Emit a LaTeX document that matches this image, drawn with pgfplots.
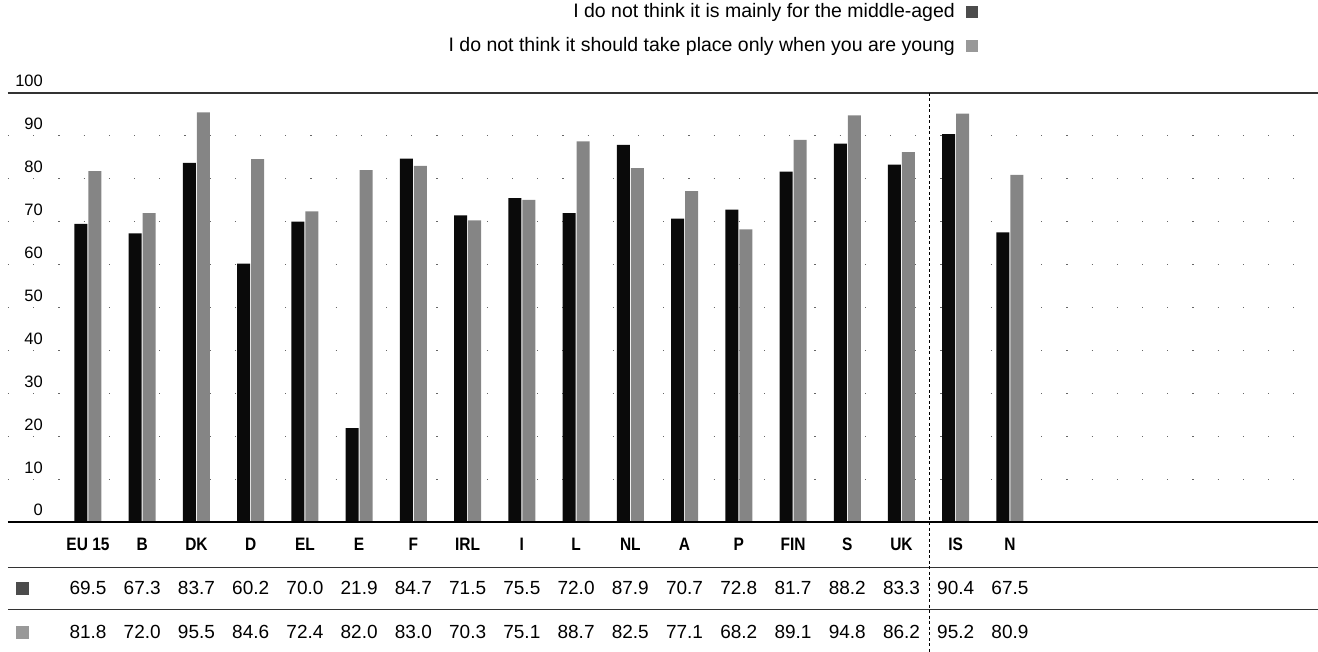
\documentclass[border=0pt]{standalone}
\usepackage{fontspec}
\setmainfont{Liberation Sans}
\newfontfamily\cond{Liberation Sans}[FakeStretch=0.86]
\usepackage{pgfplots}
\usepackage{pgfplotstable}
\pgfplotsset{compat=1.18}

% x = position of the country, dark = mainly for the middle-aged, light = only when young
\pgfplotstableread{
x dark light
0 69.5 81.8
1 67.3 72.0
2 83.7 95.5
3 60.2 84.6
4 70.0 72.4
5 21.9 82.0
6 84.7 83.0
7 71.5 70.3
8 75.5 75.1
9 72.0 88.7
10 87.9 82.5
11 70.7 77.1
12 72.8 68.2
13 81.7 89.1
14 88.2 94.8
15 83.3 86.2
16 90.4 95.2
17 67.5 80.9
}\data

\definecolor{darkbar}{gray}{0.04}
\definecolor{lightbar}{gray}{0.52}

\begin{document}
\begin{tikzpicture}
\begin{axis}[
    at={(8pt,129pt)}, anchor=south west,
    scale only axis,
    width=1310pt, height=429pt,
    xmin=-1.475, xmax=22.68,
    ymin=0, ymax=100,
    clip=false,
    axis line style={draw=none},
    tick style={draw=none},
    major tick length=0pt,
    xtick={0,...,17},
    xticklabels={EU 15,B,DK,D,EL,E,F,IRL,I,L,NL,A,P,FIN,S,UK,IS,N},
    xticklabel style={font=\cond\bfseries\fontsize{18}{18}\selectfont, anchor=base, inner sep=0pt, yshift=-28pt},
    ytick={0,10,...,100},
    yticklabel style={font=\fontsize{16.5}{16.5}\selectfont, anchor=base east, inner sep=0pt, xshift=35pt, yshift=6pt},
    /pgf/number format/assume math mode=true,
    ymajorgrids,
    grid style={black!60, line width=1pt, dash pattern=on 1.2pt off 24pt},
    legend style={at={(0.7405,1.2098)}, anchor=north east, draw=none, fill=none,
        inner sep=0pt, font=\fontsize{19.5}{19.5}\selectfont,
        nodes={text height=14pt, text depth=4pt, inner sep=0pt},
        row sep=16pt, column sep=11pt},
    legend plot pos=right,
    legend cell align=right,
]
\addplot[ybar, bar width=13pt, bar shift=-7pt, fill=darkbar, draw=none,
    legend image code/.code={\fill[black!70] (0pt,-6pt) rectangle (12pt,6pt);}]
    table[x=x, y=dark] {\data};
\addlegendentry{I do not think it is mainly for the middle-aged}
\addplot[ybar, bar width=13pt, bar shift=7pt, fill=lightbar, draw=none,
    legend image code/.code={\fill[black!40] (0pt,-6pt) rectangle (12pt,6pt);}]
    table[x=x, y=light] {\data};
\addlegendentry{I do not think it should take place only when you are young}

% table rows under the chart
\addplot[forget plot, draw=none, mark=none, nodes near coords, point meta=explicit,
    nodes near coords style={anchor=center, inner sep=0pt, font=\fontsize{19}{19}\selectfont,
      /pgf/number format/fixed, /pgf/number format/fixed zerofill, /pgf/number format/precision=1}]
    table[x=x, y expr=-15.4, meta=dark] {\data};
\addplot[forget plot, draw=none, mark=none, nodes near coords, point meta=explicit,
    nodes near coords style={anchor=center, inner sep=0pt, font=\fontsize{19}{19}\selectfont,
      /pgf/number format/fixed, /pgf/number format/fixed zerofill, /pgf/number format/precision=1}]
    table[x=x, y expr=-25.6, meta=light] {\data};
\addplot[forget plot, only marks, mark=square*, mark size=6pt, mark options={fill=black!70, draw=black!70}]
    coordinates {(-1.217,-15.4)};
\addplot[forget plot, only marks, mark=square*, mark size=6pt, mark options={fill=black!40, draw=black!40}]
    coordinates {(-1.217,-25.6)};

% rules
\draw[black!80, line width=1.2pt] (axis cs:-1.475,100) -- (axis cs:22.68,100);
\draw[black, line width=1.2pt] (axis cs:-1.475,0) -- (axis cs:22.68,0);
\draw[black!80, line width=1pt] (axis cs:-1.475,-10.5) -- (axis cs:22.68,-10.5);
\draw[black!80, line width=1pt] (axis cs:-1.475,-20.5) -- (axis cs:22.68,-20.5);
\draw[black, line width=1pt, dash pattern=on 3pt off 2.5pt] (axis cs:15.52,100) -- (axis cs:15.52,-30.2);
\end{axis}
\pgfresetboundingbox
\path[use as bounding box] (0,0) rectangle (1318pt,651pt);
\end{tikzpicture}
\end{document}
